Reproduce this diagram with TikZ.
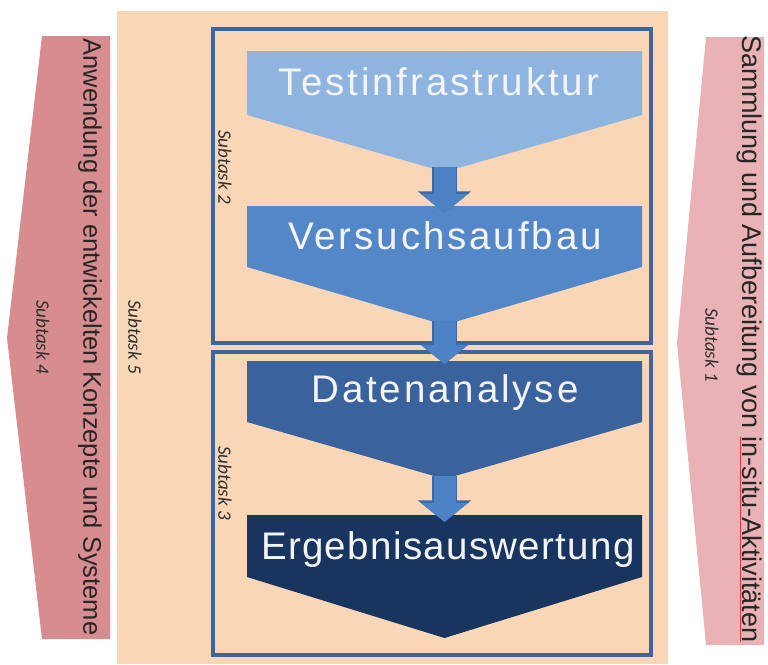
\documentclass[tikz,border=0pt]{standalone}
\usepackage{fontspec}
\setmainfont{Liberation Sans}
\newfontfamily\taskfont{Carlito}
\usepackage{xcolor}
\definecolor{task-peach}{HTML}{F9D6B5}
\definecolor{side-rose}{HTML}{D78C8F}
\definecolor{side-pink}{HTML}{E9B3B6}
\definecolor{side-text}{HTML}{262626}
\definecolor{label-gray}{HTML}{2E2E2E}
\definecolor{spell-red}{HTML}{E0343A}
\definecolor{frame-blue}{HTML}{3F65A0}
\definecolor{chev-light}{HTML}{8EB4E0}
\definecolor{chev-mid}{HTML}{5487C8}
\definecolor{chev-dark}{HTML}{3A629C}
\definecolor{chev-navy}{HTML}{17355F}
\definecolor{chev-text}{HTML}{F4F4F4}
\definecolor{arrow-blue}{HTML}{4D82C4}
\definecolor{arrow-edge}{HTML}{3A68A8}
\usetikzlibrary{arrows.meta}

\newcommand{\spellmark}[1]{{\color{spell-red}$\underline{\hbox{\color{side-text}#1}}$}}

\begin{document}
\begin{tikzpicture}[x=1pt, y=-1pt,
    sidetext/.style={rotate=-90, text=side-text, inner sep=0pt},
    tasklabel/.style={rotate=-90, text=label-gray, inner sep=0pt,
        font=\taskfont\itshape\fontsize{19}{19}\selectfont},
    chevtext/.style={text=chev-text, inner sep=0pt,
        font=\fontsize{38.5}{38.5}\selectfont\addfontfeature{LetterSpace=#1}},
    chevtext/.default=7.5,
    frame/.style={draw=frame-blue, line width=3.5pt},
    flowarrow/.style={draw=arrow-blue, line width=22pt,
        -{Triangle[length={0pt 0.87}, width={0pt 2.1}]},
        preaction={draw=arrow-edge, line width=25pt,
            -{Triangle[length={0pt 0.87}, width={0pt 2.1}]}}}]

    \useasboundingbox (0,0) rectangle (768,664);

    % Background
    \fill[task-peach] (117,11) rectangle (668,664);

    % Side arrows
    \fill[side-rose] (42,36) -- (110,36) -- (110,639) -- (42,639) -- (7,338) -- cycle;
    \fill[side-pink] (706,37) -- (764,37) -- (764,645) -- (706,645) -- (677,343) -- cycle;

    % Subtask frames
    \draw[frame] (213,29) rectangle (651,343);
    \draw[frame] (213,352) rectangle (651,655);

    % Chevrons
    \fill[chev-light] (247,51) -- (642,51) -- (642,115) -- (444.5,172) -- (247,115) -- cycle;
    \fill[chev-mid] (247,206) -- (642,206) -- (642,267) -- (444.5,325) -- (247,267) -- cycle;
    \fill[chev-dark] (247,361) -- (642,361) -- (642,422) -- (444.5,479) -- (247,422) -- cycle;
    \fill[chev-navy] (247,515) -- (642,515) -- (642,577) -- (444.5,638) -- (247,577) -- cycle;

    % Arrow ends
    \coordinate (tip1) at (444.5,167);
    \coordinate (top2) at (444.5,213);
    \coordinate (tip2) at (444.5,321);
    \coordinate (top3) at (444.5,364);
    \coordinate (tip3) at (444.5,476);
    \coordinate (top4) at (444.5,522);

    % Chevron texts
    \node[chevtext] (testinfra) at (439,81.5) {Testinfrastruktur};
    \node[chevtext] (versuch) at (445,236) {Versuchsaufbau};
    \node[chevtext] (daten) at (445,393) {Datenanalyse};
    \node[chevtext=3.5] (ergebnis) at (448,550) {Ergebnisauswertung};

    % Flow
    \draw[flowarrow] (tip1) -- (top2);
    \draw[flowarrow] (tip2) -- (top3);
    \draw[flowarrow] (tip3) -- (top4);

    % Side texts
    \node[sidetext, font=\fontsize{25.5}{25.5}\selectfont] (anwendung) at (90,337)
        {Anwendung der entwickelten Konzepte und Systeme};
    \node[sidetext, font=\fontsize{27}{27}\selectfont] (sammlung) at (749,339)
        {Sammlung und Aufbereitung von \spellmark{in-situ-Aktivitäten}};

    % Subtask labels
    \node[tasklabel] (task1) at (712,345) {Subtask 1};
    \node[tasklabel] (task2) at (225,167) {Subtask 2};
    \node[tasklabel] (task3) at (225,483) {Subtask 3};
    \node[tasklabel] (task4) at (43,337) {Subtask 4};
    \node[tasklabel] (task5) at (135,337) {Subtask 5};

\end{tikzpicture}
\end{document}
